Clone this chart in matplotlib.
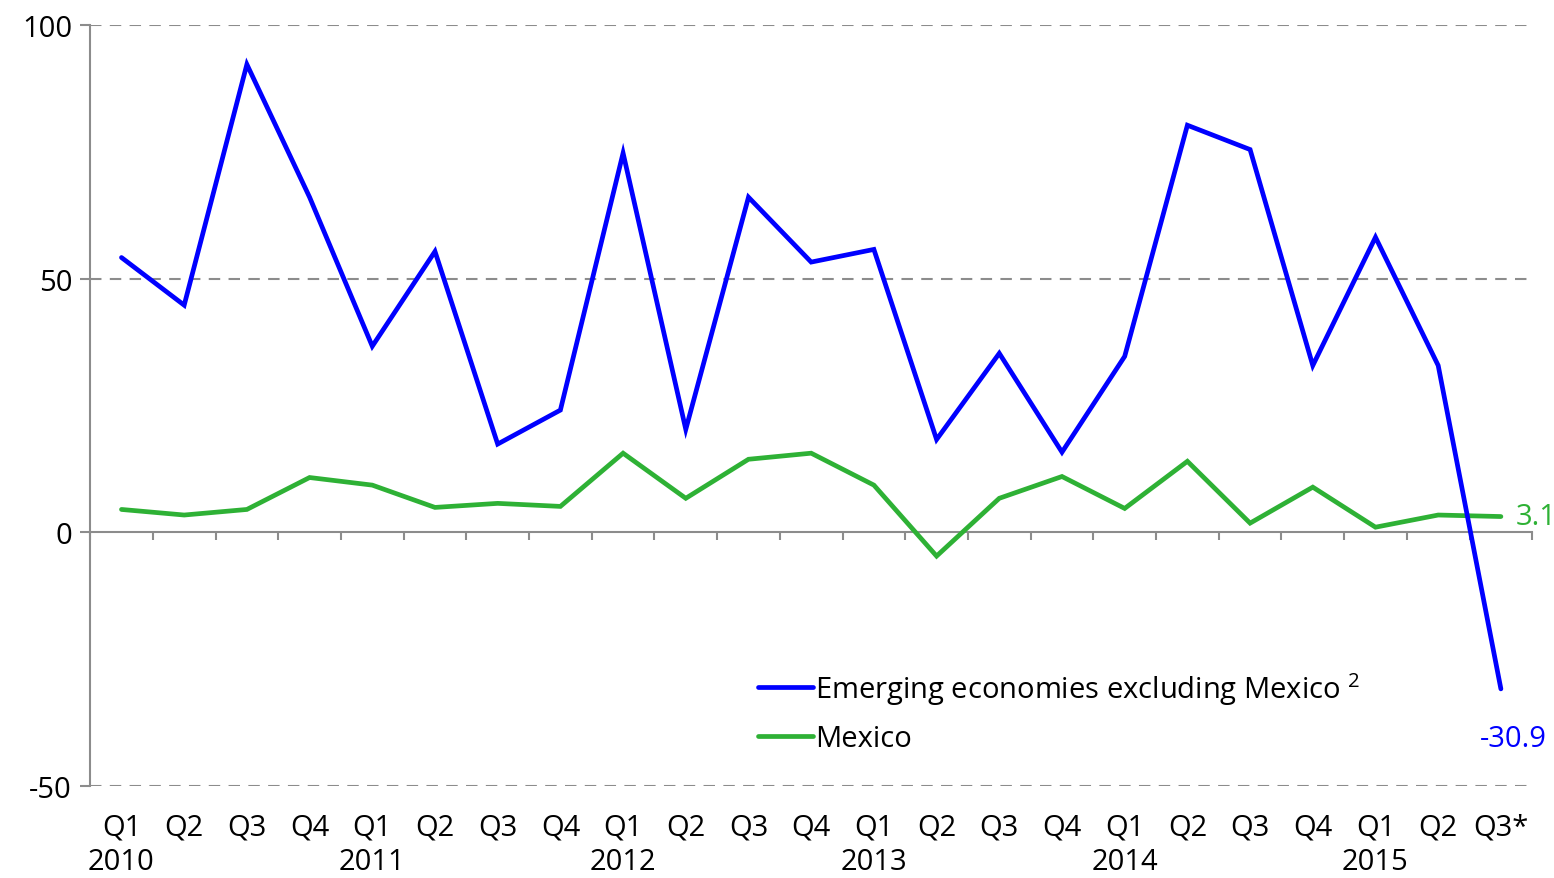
import matplotlib
matplotlib.use("Agg")
import matplotlib.pyplot as plt
import matplotlib.transforms as mtrans
import numpy as np

plt.rcParams["font.family"] = ["Open Sans", "DejaVu Sans"]
plt.rcParams["axes.unicode_minus"] = False
plt.rcParams["mathtext.fontset"] = "custom"
plt.rcParams["mathtext.rm"] = "Open Sans"
plt.rcParams["mathtext.default"] = "rm"

# ── Data ──────────────────────────────────────────────────────────────────────
quarters = ["Q1", "Q2", "Q3", "Q4"] * 5 + ["Q1", "Q2", "Q3*"]
years = ["2010", "2011", "2012", "2013", "2014", "2015"]
emerging = [54.2, 44.8, 92.3, 66.1, 36.7, 55.4, 17.4, 24.1, 74.8, 20.3, 66.1, 53.3,
            55.8, 18.3, 35.3, 15.8, 34.7, 80.3, 75.5, 32.9, 58.2, 32.9, -30.9]
mexico = [4.5, 3.4, 4.5, 10.8, 9.3, 4.9, 5.7, 5.1, 15.6, 6.7, 14.4, 15.6,
          9.3, -4.7, 6.7, 11.0, 4.7, 14.0, 1.8, 8.9, 1.0, 3.4, 3.1]

BLUE = "#0000FF"
GREEN = "#2EB135"
AXIS = "#8C8C8C"
FS = 21

fig = plt.figure(figsize=(15.54, 8.79), dpi=100, facecolor="white")
ax = fig.add_axes([0.058, 0.105, 0.928, 0.865])

x = np.arange(len(quarters))
ax.plot(x, emerging, color=BLUE, lw=3.4, solid_capstyle="round",
        solid_joinstyle="miter", label="Emerging economies excluding Mexico $^{2}$", zorder=4)
ax.plot(x, mexico, color=GREEN, lw=3.4, solid_capstyle="round",
        solid_joinstyle="miter", label="Mexico", zorder=3)

ax.set_xlim(-0.5, len(quarters) - 0.5)
ax.set_ylim(-50, 100)

# grid dashed (except zero)
for yv in (-50, 50, 100):
    ax.axhline(yv, color=AXIS, lw=1.5, dashes=[5.5, 4], zorder=1)

for s in ("top", "right"):
    ax.spines[s].set_visible(False)
ax.spines["left"].set_color(AXIS)
ax.spines["left"].set_linewidth(1.5)
ax.spines["bottom"].set_position(("data", 0))
ax.spines["bottom"].set_color(AXIS)
ax.spines["bottom"].set_linewidth(1.5)

ax.set_yticks([-50, 0, 50, 100])
ax.tick_params(axis="y", colors=AXIS, length=7, width=1.5, labelsize=FS,
               labelcolor="black", pad=6)
ax.set_xticks(np.arange(-0.5, len(quarters), 1.0))
ax.tick_params(axis="x", colors=AXIS, length=6, width=1.5, labelbottom=False)

# category labels below the plot
trans = mtrans.blended_transform_factory(ax.transData, fig.transFigure)
for i, q in enumerate(quarters):
    ax.text(i, 1 - 828 / 879, q, transform=trans, ha="center", va="center",
            fontsize=FS, color="black")
q1_idx = [i for i, q in enumerate(quarters) if q == "Q1"]
for i, yr in zip(q1_idx, years):
    ax.text(i, 1 - 863 / 879, yr, transform=trans, ha="center", va="center",
            fontsize=FS, color="black")

# end labels
ax.annotate(f"{mexico[-1]:.1f}", (x[-1], mexico[-1]), xytext=(11, 0),
            textcoords="offset points", ha="left", va="center",
            fontsize=FS, color=GREEN)
ax.annotate(f"{emerging[-1]:.1f}", (x[-1], emerging[-1]), xytext=(9, -36),
            textcoords="offset points", ha="center", va="center",
            fontsize=FS, color=BLUE)

ax.legend(loc="upper left", bbox_to_anchor=(0.455, 0.168), frameon=False,
          fontsize=FS, handlelength=1.9, handletextpad=0.05, labelspacing=0.6,
          borderaxespad=0)

fig.savefig("out.png", dpi=100, facecolor="white")
plt.close(fig)
